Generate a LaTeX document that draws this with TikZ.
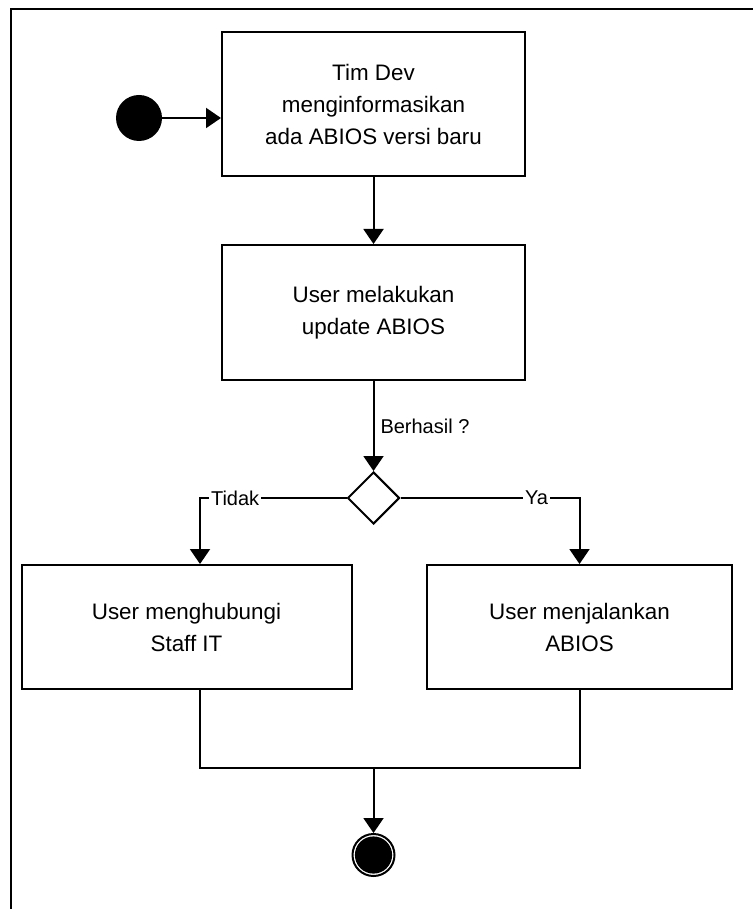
\documentclass[tikz,border=0pt]{standalone}
\usepackage{fontspec}
\setmainfont{Liberation Sans}
\usetikzlibrary{arrows.meta,shapes.geometric}
\tikzset{
	aksi/.style = {draw=black, line width=1pt, align=center, inner sep=0pt, font=\fontsize{11.2}{16}\selectfont},
	awal/.style = {circle, fill=black, minimum size=23pt, inner sep=0pt},
	akhir/.style = {circle, draw=black, line width=1pt, minimum size=21pt, inner sep=0pt,
		path picture={\fill[black] (path picture bounding box.center) circle (9.3pt);}},
	cabang/.style = {diamond, draw=black, line width=1pt, minimum width=26pt, minimum height=26pt, inner sep=0pt, aspect=1},
	alur/.style = {line width=1pt, -{Triangle[length=7.5pt, width=10pt]}},
	garis/.style = {line width=1pt},
	ket/.style = {font=\fontsize{10}{12}\selectfont, inner sep=1pt, fill=white}
}
\begin{document}
\begin{tikzpicture}[x=0.5pt, y=-0.5pt]
	\useasboundingbox (0,0) rectangle (753,909);
	\draw[garis] (753,9) -- (11,9) -- (11,909);
	% aktivitas
	\node [awal] (mulai) at (139,118) {};
	\node [aksi, minimum width=151.5pt, minimum height=72pt] (info) at (373.5,104) {Tim Dev\\menginformasikan\\ada ABIOS versi baru};
	\node [aksi, minimum width=151.5pt, minimum height=67.5pt] (update) at (373.5,312.5) {User melakukan\\update ABIOS};
	\node [cabang] (cek) at (373.5,498) {};
	\node [aksi, minimum width=165pt, minimum height=62pt] (staf) at (186.5,627) {User menghubungi\\Staff IT};
	\node [aksi, minimum width=152.5pt, minimum height=62pt] (jalan) at (579.5,627) {User menjalankan\\ABIOS};
	\node [akhir] (selesai) at (373.5,855) {};
	\coordinate (kiri) at (200,0);
	\coordinate (gabung) at (373.5,768);
	% alur
	\draw[alur] (mulai) -- (mulai -| info.west);
	\draw[alur] (info) -- (update);
	\draw[alur] (update) -- node[ket, right, fill=none, xshift=2pt] {Berhasil ?} (cek);
	\draw[alur] (cek.west) -| node[ket, pos=0.38] {Tidak} (staf.north -| kiri);
	\draw[alur] (cek.east) -| node[ket, pos=0.38] {Ya} (jalan.north);
	\draw[garis] (staf.south -| kiri) |- (gabung) -| (jalan.south);
	\draw[alur] (gabung) -- (selesai);
\end{tikzpicture}
\end{document}
